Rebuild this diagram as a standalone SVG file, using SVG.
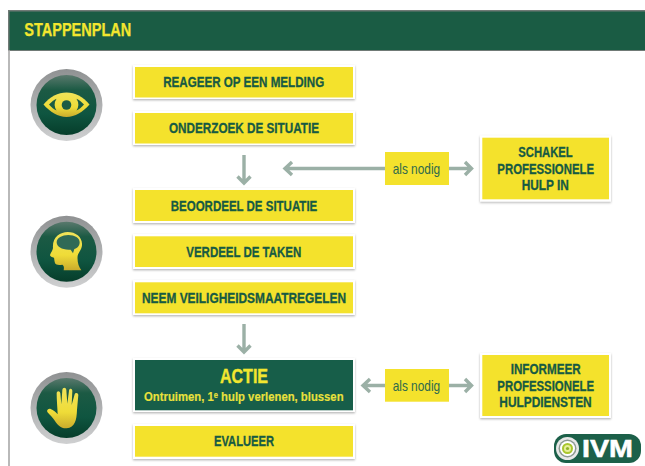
<svg xmlns="http://www.w3.org/2000/svg" width="645" height="466" viewBox="0 0 645 466">
<style>
text{font-family:"Liberation Sans Narrow","Liberation Sans",Arial,sans-serif;text-anchor:middle}
.t{font-weight:700;font-size:14.500px;fill:#175a43;stroke:#175a43;stroke-width:.3}
.y{fill:#f4e22c}
.w{fill:#fff;filter:url(#sh)}
.n{font-size:14.500px;fill:#2f6a4c}
.a{fill:none;stroke:#9bb0a6;stroke-width:3.4}
.s{font-weight:700;font-size:13.500px;fill:#e9e13c;stroke:#e9e13c;stroke-width:.15}
</style>
<defs>
<filter id="sh" x="-5%" y="-15%" width="110%" height="135%"><feDropShadow dx="0" dy="1.2" stdDeviation="1.2" flood-color="#000" flood-opacity=".3"/></filter>
<linearGradient id="ring" x1="0" y1="0" x2="0" y2="1"><stop offset="0" stop-color="#8f9192"/><stop offset="1" stop-color="#cfd0d1"/></linearGradient>
<linearGradient id="disc" x1="0" y1="0" x2="0" y2="1"><stop offset="0" stop-color="#5a796d"/><stop offset=".25" stop-color="#1c5a44"/><stop offset=".65" stop-color="#0f5540"/><stop offset="1" stop-color="#063d2a"/></linearGradient>
<linearGradient id="gold" x1="0" y1="0" x2="0" y2="1"><stop offset="0" stop-color="#f0e35a"/><stop offset=".6" stop-color="#efdc38"/><stop offset="1" stop-color="#c9ab2c"/></linearGradient>
</defs>
<rect width="645" height="466" fill="#fff"/>
<g id="frame">
<rect x="8" y="10" width="637" height="41" fill="#707a76"/>
<rect x="9.500" y="11.500" width="635.500" height="38.500" fill="#1a5c44"/>
<rect x="8.200" y="50" width="1.600" height="416" fill="#a9a9a9"/>
<text x="77.800" y="36" style="font-weight:700;font-size:18px;fill:#f2e62f;stroke:#f2e62f;stroke-width:.25" textLength="107" lengthAdjust="spacingAndGlyphs">STAPPENPLAN</text>
</g>
<g id="connectors">
<path class="a" d="M244 155V183M237.500 176.500L244 183L250.500 176.500"/>
<path class="a" d="M244 324V352M237.500 345.500L244 352L250.500 345.500"/>
<path class="a" d="M385 168.500H285M292 162L285 168.500L292 175"/>
<path class="a" d="M449 168.500H471.500M465 162L471.500 168.500L465 175"/>
<path class="a" d="M385 385.500H363M370 379L363 385.500L370 392"/>
<path class="a" d="M449 385.500H471.500M465 379L471.500 385.500L465 392"/>
</g>
<g id="icon-observe">
<circle cx="66.500" cy="105" r="36" fill="url(#ring)"/><circle cx="66.500" cy="105" r="30" fill="url(#disc)"/>
<path d="M43.500 104.500C50 96.500 58 92.500 66.500 92.500S83 96.500 89.500 104.500C83 112 75 117 66.500 117S50 112 43.500 104.500Z" fill="url(#gold)"/>
<path d="M49 104.500C51.500 102 54 100 56.500 98.800A11 11 0 0 0 56.500 110.500C54 109.300 51.500 107.500 49 104.500ZM84 104.500C81.500 102 79 100 76.500 98.800A11 11 0 0 1 76.500 110.500C79 109.300 81.500 107.500 84 104.500Z" fill="#1a5c44"/>
<circle cx="66.500" cy="105" r="4.800" fill="#1a5c44"/>
</g>
<g id="icon-think">
<circle cx="66.500" cy="251.700" r="36" fill="url(#ring)"/><circle cx="66.500" cy="251.700" r="30" fill="url(#disc)"/>
<path transform="translate(20 208) scale(.3333)" d="M131 187C133 177 131 172 127 170C118 171 108 172 105 165C103 158 103 153 102 149C96 148 90 146 90 141C93 133 98 127 99 120C96 88 120 72 143 72C168 72 188 88 186 112C185 125 176 133 173 143C171 160 176 176 184 187Z" fill="url(#gold)"/>
<path transform="translate(20 208) scale(.3333)" d="M110 103C110 90 127 81 145 81C164 81 179 90 179 103C179 115 170 122 163 123L159 136L152 125C128 127 110 117 110 103Z" fill="#2f6a56"/>
</g>
<g id="icon-act">
<circle cx="66.500" cy="408" r="36" fill="url(#ring)"/><circle cx="66.500" cy="408" r="30" fill="url(#disc)"/>
<path transform="translate(20 365) scale(.3333)" d="M110 85C110 77 120 77 121 85L124 118L127 75C128 66 138 66 139 75L142 116L147 77C148 69 157 70 157 78L155 120L164 88C166 81 175 83 175 90L171 135C170 165 165 187 140 190C122 191 113 180 105 168C98 157 90 150 82 141C79 135 86 130 92 132C100 135 108 142 113 148C112 125 110 105 110 85Z" fill="url(#gold)"/>
</g>
<g id="node-reageer"><rect class="w" x="133" y="65" width="222" height="34"/><rect class="y" x="135" y="67" width="218" height="30.500"/><text class="t" x="243.700" y="86.700" textLength="161" lengthAdjust="spacingAndGlyphs">REAGEER OP EEN MELDING</text></g>
<g id="node-onderzoek"><rect class="w" x="133" y="111" width="222" height="34"/><rect class="y" x="135" y="113" width="218" height="30.500"/><text class="t" x="244" y="133" textLength="150" lengthAdjust="spacingAndGlyphs">ONDERZOEK DE SITUATIE</text></g>
<g id="node-beoordeel"><rect class="w" x="133" y="188" width="222" height="35"/><rect class="y" x="135" y="190" width="218" height="31"/><text class="t" x="244" y="211" textLength="146.500" lengthAdjust="spacingAndGlyphs">BEOORDEEL DE SITUATIE</text></g>
<g id="node-verdeel"><rect class="w" x="133" y="234" width="222" height="35"/><rect class="y" x="135" y="236.300" width="218" height="30.700"/><text class="t" x="243.800" y="257" textLength="115" lengthAdjust="spacingAndGlyphs">VERDEEL DE TAKEN</text></g>
<g id="node-neem"><rect class="w" x="133" y="280" width="222" height="35"/><rect class="y" x="135" y="282.300" width="218" height="31"/><text class="t" x="244" y="303" textLength="204" lengthAdjust="spacingAndGlyphs">NEEM VEILIGHEIDSMAATREGELEN</text></g>
<g id="node-actie"><rect class="w" x="133" y="358" width="222" height="54"/><rect x="135" y="360" width="218" height="50.300" fill="#175e49"/>
<text x="244" y="383.300" textLength="48" lengthAdjust="spacingAndGlyphs" style="font-weight:700;font-size:20px;fill:#f2e62f;stroke:#f2e62f;stroke-width:.4">ACTIE</text>
<text class="s" x="243.800" y="400.700" textLength="199.500" lengthAdjust="spacingAndGlyphs">Ontruimen, 1ᵉ hulp verlenen, blussen</text></g>
<g id="node-evalueer"><rect class="w" x="133" y="424" width="222" height="35"/><rect class="y" x="135" y="426" width="218" height="30.700"/><text class="t" x="244" y="446" textLength="60" lengthAdjust="spacingAndGlyphs">EVALUEER</text></g>
<g id="node-als-nodig-1"><rect class="y" x="385" y="152" width="64" height="33"/><text class="n" x="416.400" y="174" textLength="47.500" lengthAdjust="spacingAndGlyphs">als nodig</text></g>
<g id="node-als-nodig-2"><rect class="y" x="385" y="369" width="64" height="32.700"/><text class="n" x="416.400" y="391" textLength="47.500" lengthAdjust="spacingAndGlyphs">als nodig</text></g>
<g id="node-schakel"><rect class="w" x="480" y="135.500" width="131" height="66"/><rect class="y" x="482.300" y="137.700" width="126.700" height="61.600"/>
<text class="t" x="545.500" y="156.700" textLength="54.400" lengthAdjust="spacingAndGlyphs">SCHAKEL</text><text class="t" x="545.700" y="173.700" textLength="96.700" lengthAdjust="spacingAndGlyphs">PROFESSIONELE</text><text class="t" x="545.300" y="190" textLength="47.300" lengthAdjust="spacingAndGlyphs">HULP IN</text></g>
<g id="node-informeer"><rect class="w" x="480" y="353" width="131" height="65"/><rect class="y" x="482.300" y="355" width="126.700" height="61"/>
<text class="t" x="545.700" y="374" textLength="70" lengthAdjust="spacingAndGlyphs">INFORMEER</text><text class="t" x="545.700" y="390.700" textLength="96.700" lengthAdjust="spacingAndGlyphs">PROFESSIONELE</text><text class="t" x="545.500" y="407" textLength="92.400" lengthAdjust="spacingAndGlyphs">HULPDIENSTEN</text></g>
<g id="logo-ivm"><rect x="554" y="434" width="87" height="29" rx="12" fill="#1c6049"/>
<circle cx="567.500" cy="448.500" r="11.500" fill="#e8e8e8"/><circle cx="567.500" cy="448.500" r="9" fill="#8d9a92"/><circle cx="567.500" cy="448.500" r="7.500" fill="#fff"/><circle cx="567.500" cy="448.500" r="5.500" fill="#a9c62e"/><circle cx="567.500" cy="448.500" r="3.500" fill="#e8ef9a"/><circle cx="567.500" cy="448.500" r="1.600" fill="#8fb32a"/>
<text x="607.500" y="457.300" textLength="51" lengthAdjust="spacingAndGlyphs" style="font-weight:700;font-size:23px;fill:#fff;stroke:#fff;stroke-width:.5">IVM</text></g>
</svg>
